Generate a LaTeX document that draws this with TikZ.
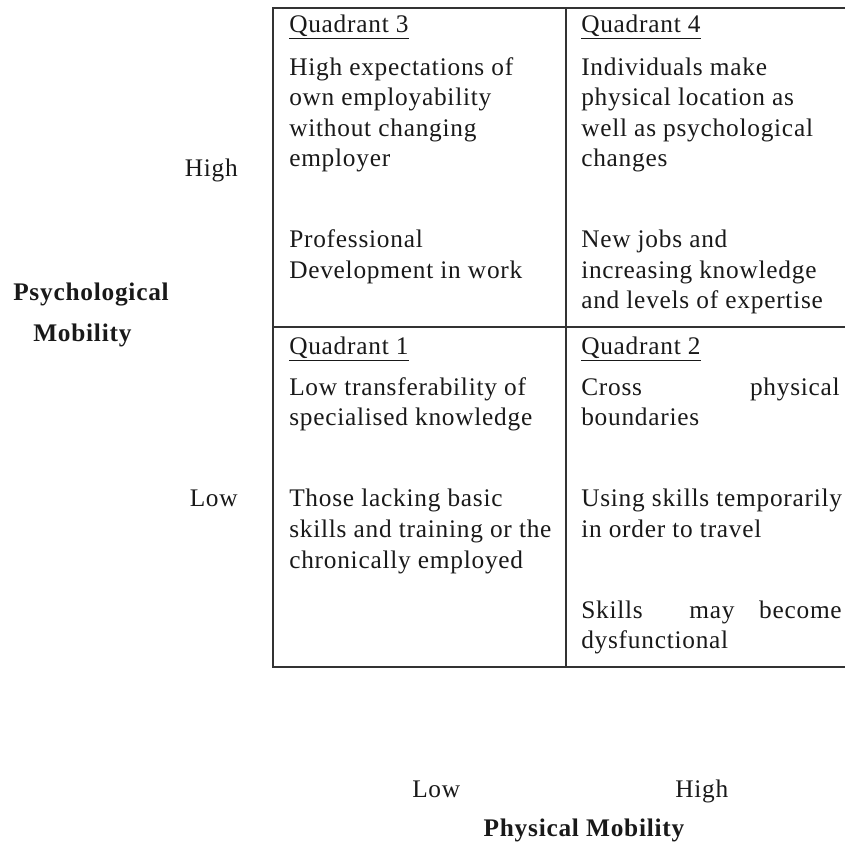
\documentclass[tikz,border=0pt]{standalone}
\usepackage{fontspec}
\setmainfont{Liberation Serif}[LetterSpace=3]
\begin{document}
\begin{tikzpicture}[x=0.75pt,y=-0.75pt,
  txt/.style={anchor=base west,inner sep=0pt,font=\fontsize{19}{23}\selectfont,text=black!90},
  txte/.style={anchor=base east,inner sep=0pt,font=\fontsize{19}{23}\selectfont,text=black!90},
  bold/.style={anchor=base west,inner sep=0pt,font=\fontsize{19}{23}\selectfont\bfseries,text=black!90},
  grid/.style={line width=1.4pt,draw=black!80}]
\useasboundingbox (0,0) rectangle (845,844);
% grid
\coordinate (tl) at (273,8);
\coordinate (tm) at (566,8);
\coordinate (tr) at (846,8);
\coordinate (ml) at (273,327);
\coordinate (mr) at (846,327);
\coordinate (bl) at (273,667);
\coordinate (bm) at (566,667);
\coordinate (br) at (846,667);
\draw[grid] (tr) -- (tl) -- (bl) -- (br);
\draw[grid] (tm) -- (bm);
\draw[grid] (ml) -- (mr);
% Quadrant 3
\node[txt] (q3h) at (289,32) {\underline{Quadrant 3}};
\node[txt] (q3a) at (289,75) {High expectations of};
\node[txt] (q3b) at (289,105) {own employability};
\node[txt] (q3c) at (289,136) {without changing};
\node[txt] (q3d) at (289,166) {employer};
\node[txt] (q3e) at (289,247) {Professional};
\node[txt] (q3f) at (289,278) {Development in work};
% Quadrant 4
\node[txt] (q4h) at (581,32) {\underline{Quadrant 4}};
\node[txt] (q4a) at (581,75) {Individuals make};
\node[txt] (q4b) at (581,105) {physical location as};
\node[txt] (q4c) at (581,136) {well as psychological};
\node[txt] (q4d) at (581,166) {changes};
\node[txt] (q4e) at (581,247) {New jobs and};
\node[txt] (q4f) at (581,278) {increasing knowledge};
\node[txt] (q4g) at (581,308) {and levels of expertise};
% Quadrant 1
\node[txt] (q1h) at (289,354) {\underline{Quadrant 1}};
\node[txt] (q1a) at (289,395) {Low transferability of};
\node[txt] (q1b) at (289,425) {specialised knowledge};
\node[txt] (q1c) at (289,506) {Those lacking basic};
\node[txt] (q1d) at (289,537) {skills and training or the};
\node[txt] (q1e) at (289,568) {chronically employed};
% Quadrant 2
\node[txt] (q2h) at (581,354) {\underline{Quadrant 2}};
\node[txt] (q2a) at (581,395) {Cross};
\node[txte] (q2a2) at (840,395) {physical};
\node[txt] (q2b) at (581,425) {boundaries};
\node[txt] (q2c) at (581,506) {Using skills temporarily};
\node[txt] (q2d) at (581,537) {in order to travel};
\node[txt] (q2e) at (581,618) {Skills};
\node[anchor=base,inner sep=0pt,font=\fontsize{19}{23}\selectfont,text=black!90] (q2e2) at (712,618) {may};
\node[txte] (q2e3) at (842,618) {become};
\node[txt] (q2f) at (581,648) {dysfunctional};
% axis labels
\node[txte] (yhigh) at (238,176) {High};
\node[txte] (ylow) at (238,506) {Low};
\node[bold] (ylab1) at (13,300) {Psychological};
\node[bold] (ylab2) at (33,341) {Mobility};
\node[txt] (xlow) at (412,797) {Low};
\node[txt] (xhigh) at (675,797) {High};
\node[anchor=base,inner sep=0pt,font=\fontsize{19}{23}\selectfont\bfseries,text=black!90] (xlab) at (584,836) {Physical Mobility};
\end{tikzpicture}
\end{document}
